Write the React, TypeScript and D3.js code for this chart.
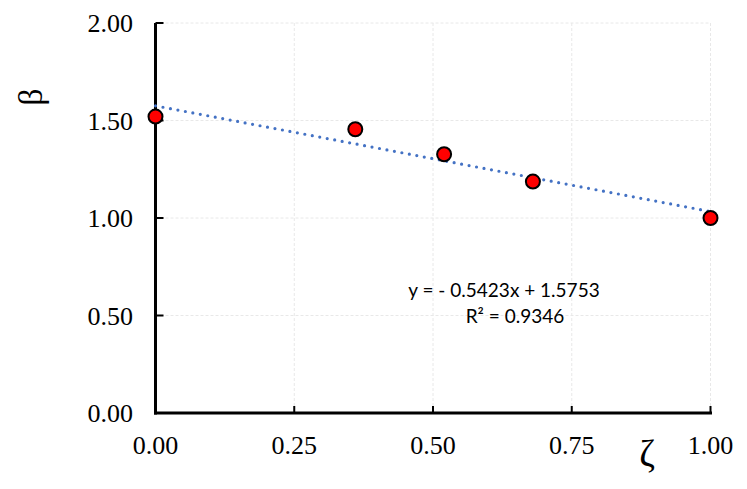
import React from "react";
import * as d3 from "d3";

const xValues = [0, 0.36, 0.52, 0.68, 1.0];
const yValues = [1.52, 1.455, 1.327, 1.187, 1.0];
const xTicks = [0, 0.25, 0.5, 0.75, 1.0];
const yTicks = [0, 0.5, 1.0, 1.5, 2.0];
const slope = -0.5423;
const intercept = 1.5753;
const eqLine1 = "y = - 0.5423x + 1.5753";
const eqLine2 = "R² = 0.9346";

export default function App() {
  const W = 747, H = 489;
  const x = d3.scaleLinear().domain([0, 1]).range([155.5, 710.5]);
  const y = d3.scaleLinear().domain([0, 2]).range([413, 23]);
  const trend = d3.line<number>().x(d => x(d)).y(d => y(slope * d + intercept));
  const serif = "'Liberation Serif', 'Times New Roman', serif";
  const sans = "Lato, 'Open Sans', sans-serif";
  return (
    <svg width={W} height={H} style={{ position: "absolute", left: 0, top: 0, background: "#fff" }}>
      {xTicks.filter(t => t > 0).map(t => (
        <line key={"gx" + t} x1={x(t)} x2={x(t)} y1={y(2)} y2={y(0)} stroke="#e8e8e8" strokeWidth={1} strokeDasharray="3,2" />
      ))}
      {yTicks.filter(t => t > 0).map(t => (
        <line key={"gy" + t} x1={x(0)} x2={x(1)} y1={y(t)} y2={y(t)} stroke="#e8e8e8" strokeWidth={1} strokeDasharray="3,2" />
      ))}
      <line x1={x(0)} x2={x(0)} y1={y(2)} y2={y(0) + 1.5} stroke="#000" strokeWidth={3} />
      <line x1={x(0) - 1.5} x2={x(1) + 1.5} y1={y(0)} y2={y(0)} stroke="#000" strokeWidth={3} />
      {xTicks.filter(t => t > 0).map(t => (
        <line key={"tx" + t} x1={x(t)} x2={x(t)} y1={y(0)} y2={y(0) - 7} stroke="#000" strokeWidth={2} />
      ))}
      {yTicks.filter(t => t > 0).map(t => (
        <line key={"ty" + t} x1={x(0)} x2={x(0) + 8} y1={y(t)} y2={y(t)} stroke="#000" strokeWidth={2} />
      ))}
      {yTicks.map(t => (
        <text key={"ly" + t} x={133} y={y(t)} dy="0.35em" textAnchor="end" fontFamily={serif} fontSize={26} fill="#000">
          {t.toFixed(2)}
        </text>
      ))}
      {xTicks.map(t => (
        <text key={"lx" + t} x={x(t)} y={454} textAnchor="middle" fontFamily={serif} fontSize={26} fill="#000">
          {t.toFixed(2)}
        </text>
      ))}
      <g transform="translate(30,97)">
        <text transform="rotate(-90)" textAnchor="middle" dominantBaseline="central" fontFamily={serif} fontSize={34} fill="#000">β</text>
      </g>
      <text x={647} y={466} textAnchor="middle" fontFamily={serif} fontSize={38} fill="#000">ζ</text>
      <path d={trend([0, 1]) || ""} fill="none" stroke="#4472C4" strokeWidth={3.2} strokeLinecap="round" strokeDasharray="0,7.6" />
      {xValues.map((v, i) => (
        <circle key={"p" + i} cx={x(v)} cy={y(yValues[i])} r={7} fill="#ff0000" stroke="#000" strokeWidth={2} />
      ))}
      <text x={504} y={297} textAnchor="middle" fontFamily={sans} fontSize={19} fill="#000">{eqLine1}</text>
      <text x={515} y={323} textAnchor="middle" fontFamily={sans} fontSize={19} fill="#000">{eqLine2}</text>
    </svg>
  );
}
